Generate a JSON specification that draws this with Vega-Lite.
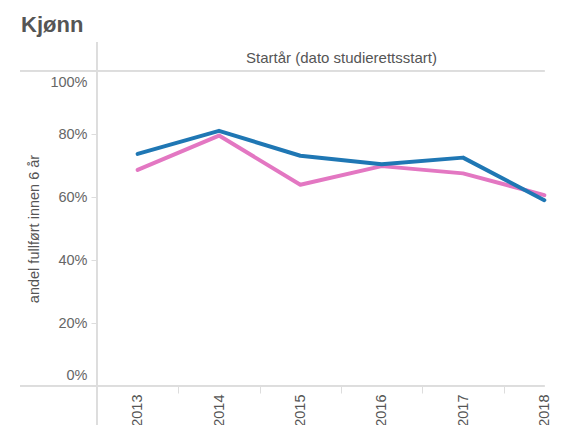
{
  "$schema": "https://vega.github.io/schema/vega-lite/v6.json",
  "width": 469,
  "height": 315,
  "autosize": {"type": "none"},
  "padding": {"left": 97, "top": 71, "right": 0, "bottom": 39},
  "background": "white",
  "title": {
    "text": "Kjønn",
    "anchor": "start",
    "frame": "group",
    "dx": -76,
    "font": "Liberation Sans",
    "fontSize": 22,
    "fontWeight": "bold",
    "color": "#555555",
    "offset": 5
  },
  "config": {
    "view": {"stroke": null},
    "axis": {"labelFont": "Liberation Sans", "titleFont": "Liberation Sans"}
  },
  "data": {
    "values": [
      {"year": "2013", "kjonn": "Kvinne", "andel": 0.686},
      {"year": "2014", "kjonn": "Kvinne", "andel": 0.795},
      {"year": "2015", "kjonn": "Kvinne", "andel": 0.639},
      {"year": "2016", "kjonn": "Kvinne", "andel": 0.698},
      {"year": "2017", "kjonn": "Kvinne", "andel": 0.675},
      {"year": "2018", "kjonn": "Kvinne", "andel": 0.606},
      {"year": "2013", "kjonn": "Mann", "andel": 0.737},
      {"year": "2014", "kjonn": "Mann", "andel": 0.810},
      {"year": "2015", "kjonn": "Mann", "andel": 0.731},
      {"year": "2016", "kjonn": "Mann", "andel": 0.704},
      {"year": "2017", "kjonn": "Mann", "andel": 0.725},
      {"year": "2018", "kjonn": "Mann", "andel": 0.590}
    ]
  },
  "layer": [
    {
      "mark": {"type": "rule", "color": "#dddddd", "strokeWidth": 1},
      "encoding": {
        "x": {
          "datum": "2013",
          "type": "ordinal",
          "bandPosition": 0,
          "axis": {
            "orient": "top",
            "title": "Startår (dato studierettsstart)",
            "labels": false,
            "ticks": false,
            "domain": false,
            "grid": false,
            "titleFontSize": 15,
            "titleFontWeight": "normal",
            "titleColor": "#555555",
            "titlePadding": 6
          }
        },
        "y": {"datum": 1.092, "type": "quantitative", "axis": null},
        "y2": {"datum": -0.124}
      }
    },
    {
      "mark": {"type": "rule", "color": "#dddddd", "strokeWidth": 1},
      "encoding": {
        "x": {"datum": "2013", "type": "ordinal", "bandPosition": -0.947, "axis": null},
        "x2": {"datum": "2018"},
        "y": {"datum": 0, "type": "quantitative", "axis": null}
      }
    },
    {
      "mark": {"type": "rule", "color": "#dddddd", "strokeWidth": 1},
      "encoding": {
        "x": {"datum": "2013", "type": "ordinal", "bandPosition": -0.947, "axis": null},
        "x2": {"datum": "2018"},
        "y": {"datum": 1, "type": "quantitative", "axis": null}
      }
    },
    {
      "mark": {"type": "line", "strokeWidth": 4, "strokeCap": "round", "strokeJoin": "round"},
      "encoding": {
        "x": {
          "field": "year",
          "type": "ordinal",
          "scale": {
            "domain": ["2013", "2014", "2015", "2016", "2017", "2018"],
            "range": [0, 488],
            "paddingInner": 0,
            "paddingOuter": 0
          },
          "axis": {
            "orient": "bottom",
            "title": null,
            "labelAngle": -90,
            "labelFontSize": 14.5,
            "labelColor": "#555555",
            "labelPadding": 1,
            "tickBand": "extent",
            "tickSize": 7,
            "tickColor": "#dddddd",
            "domain": false,
            "grid": false
          }
        },
        "y": {
          "field": "andel",
          "type": "quantitative",
          "scale": {"domain": [0, 1], "nice": false, "zero": true},
          "axis": {
            "orient": "left",
            "title": "andel fullført innen 6 år",
            "titleFontSize": 14.5,
            "titleFontWeight": "normal",
            "titleColor": "#555555",
            "titlePadding": 8,
            "values": [0, 0.2, 0.4, 0.6, 0.8, 1],
            "format": ".0%",
            "labelFontSize": 14.5,
            "labelColor": "#666666",
            "labelPadding": 4,
            "labelFlush": true,
            "labelFlushOffset": -4,
            "tickSize": 6,
            "tickColor": "#dddddd",
            "domain": false,
            "grid": false
          }
        },
        "color": {
          "field": "kjonn",
          "type": "nominal",
          "scale": {"domain": ["Kvinne", "Mann"], "range": ["#e377c2", "#1f77b4"]},
          "legend": null
        }
      }
    }
  ],
  "resolve": {"axis": {"x": "independent", "y": "independent"}}
}
